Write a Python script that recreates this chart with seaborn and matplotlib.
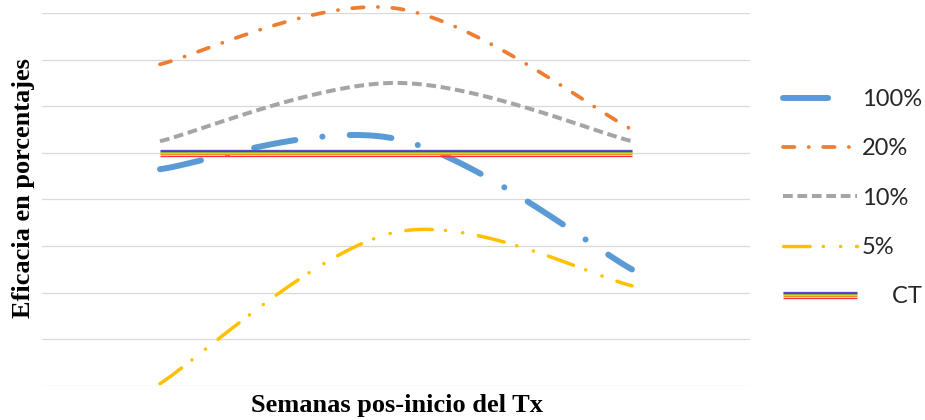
import numpy as np
import pandas as pd
import matplotlib
matplotlib.use("Agg")
import matplotlib.pyplot as plt
import matplotlib.patheffects as pe
import seaborn as sns

semanas = [0, 1, 2]
efic_100 = [46.5, 53.0, 25.0]
efic_20 = [69.0, 81.0, 55.0]
efic_10 = [52.5, 65.0, 52.5]
efic_5 = [0.5, 33.0, 21.5]
efic_ct = [50.0, 50.0, 50.0]

etiquetas = ["100%", "20%", "10%", "5%", "     CT"]


def suavizar(x, y, n=60):
    # curva suavizada tipo Excel (Bezier / Catmull-Rom) entre los puntos
    x = np.asarray(x, float); y = np.asarray(y, float)
    px = np.r_[x[0], x, x[-1]]; py = np.r_[y[0], y, y[-1]]
    xs, ys = [], []
    t = np.linspace(0, 1, n)
    for i in range(1, len(px) - 2):
        p0 = np.array([px[i], py[i]]); p3 = np.array([px[i + 1], py[i + 1]])
        c1 = p0 + (np.array([px[i + 1], py[i + 1]]) - np.array([px[i - 1], py[i - 1]])) / 6
        c2 = p3 - (np.array([px[i + 2], py[i + 2]]) - np.array([px[i], py[i]])) / 6
        b = ((1 - t) ** 3)[:, None] * p0 + (3 * (1 - t) ** 2 * t)[:, None] * c1 \
            + (3 * (1 - t) * t ** 2)[:, None] * c2 + (t ** 3)[:, None] * p3
        xs.append(b[:, 0]); ys.append(b[:, 1])
    return np.concatenate(xs), np.concatenate(ys)


sns.set_style("white")
plt.rcParams["lines.scale_dashes"] = False

fig = plt.figure(figsize=(9.25, 4.2), dpi=100)
ax = fig.add_axes([42 / 925, 1 - 386 / 420, 708 / 925, 373 / 420])

# (valores, color, grosor, patrón, extremo)
series = [
    (efic_100, "#5B9BD5", 4.3, (30.2, 19.6, 0.1, 19.6), "round"),
    (efic_20, "#ED7D31", 2.7, (8.2, 10.3, 0.1, 10.3), "round"),
    (efic_10, "#A5A5A5", 2.9, (7.0, 3.4), "butt"),
    (efic_5, "#FFC000", 2.5, (19.2, 9.4, 0.1, 12.4, 0.1, 11.4), "round"),
]

handles = []
for (vals, color, lw, dash, cap), lab in zip(series, etiquetas):
    xs, ys = suavizar(semanas, vals)
    sns.lineplot(x=xs, y=ys, ax=ax, color=color, linewidth=lw, sort=False,
                 estimator=None, legend=False, clip_on=False)
    ln = ax.lines[-1]
    ln.set_dashes(dash)
    ln.set_dash_capstyle(cap)
    handles.append(ln)

# CT: línea con franjas de colores
franjas = ["#6A4FC4", "#3535C8", "#78B43C", "#F2D21C", "#FF8A1E", "#F2304A"]
efectos = [pe.Stroke(offset=(0, 1.9 - 0.76 * i), linewidth=0.95, foreground=c)
           for i, c in enumerate(franjas)]
xs, ys = suavizar(semanas, efic_ct)
sns.lineplot(x=xs, y=ys, ax=ax, color="#4040C0", linewidth=0.95, sort=False,
             estimator=None, legend=False)
ct = ax.lines[-1]
ct.set_path_effects(efectos)
ct.set_solid_capstyle("butt")
handles.append(ct)

ax.set_xlim(-0.5, 2.5)
ax.set_ylim(0, 80)
ax.set_yticks(np.arange(0, 81, 10))
ax.set_xticks([])
ax.tick_params(left=False, bottom=False, labelleft=False, labelbottom=False)
ax.grid(axis="y", color="#D9D9D9", linewidth=0.9)
ax.set_axisbelow(True)
sns.despine(ax=ax, left=True, bottom=True)

ax.set_ylabel("Eficacia en porcentajes", fontsize=19, fontweight="bold",
              family="Liberation Serif", color="black")
ax.yaxis.set_label_coords(-0.026, 0.532)
ax.set_xlabel("Semanas pos-inicio del Tx", fontsize=19, fontweight="bold",
              family="Liberation Serif", color="black")
ax.xaxis.set_label_coords(0.502, -0.051)
ax.xaxis.label.set_va("center")
ax.yaxis.label.set_va("center")

leg = fig.legend(handles=handles, labels=etiquetas, loc="center left",
                 bbox_to_anchor=(762 / 925, 1 - 198 / 420), frameon=False,
                 prop={"family": "Lato", "size": 17}, handlelength=3.13,
                 labelspacing=1.2, handletextpad=0.21)
for t in leg.get_texts():
    t.set_color("#262626")
# en la leyenda la serie 100% muestra sólo el primer trazo
leg.legend_handles[0].set_linestyle((0, (32.5, 40)))

fig.savefig("out.png", dpi=100, facecolor="white")
